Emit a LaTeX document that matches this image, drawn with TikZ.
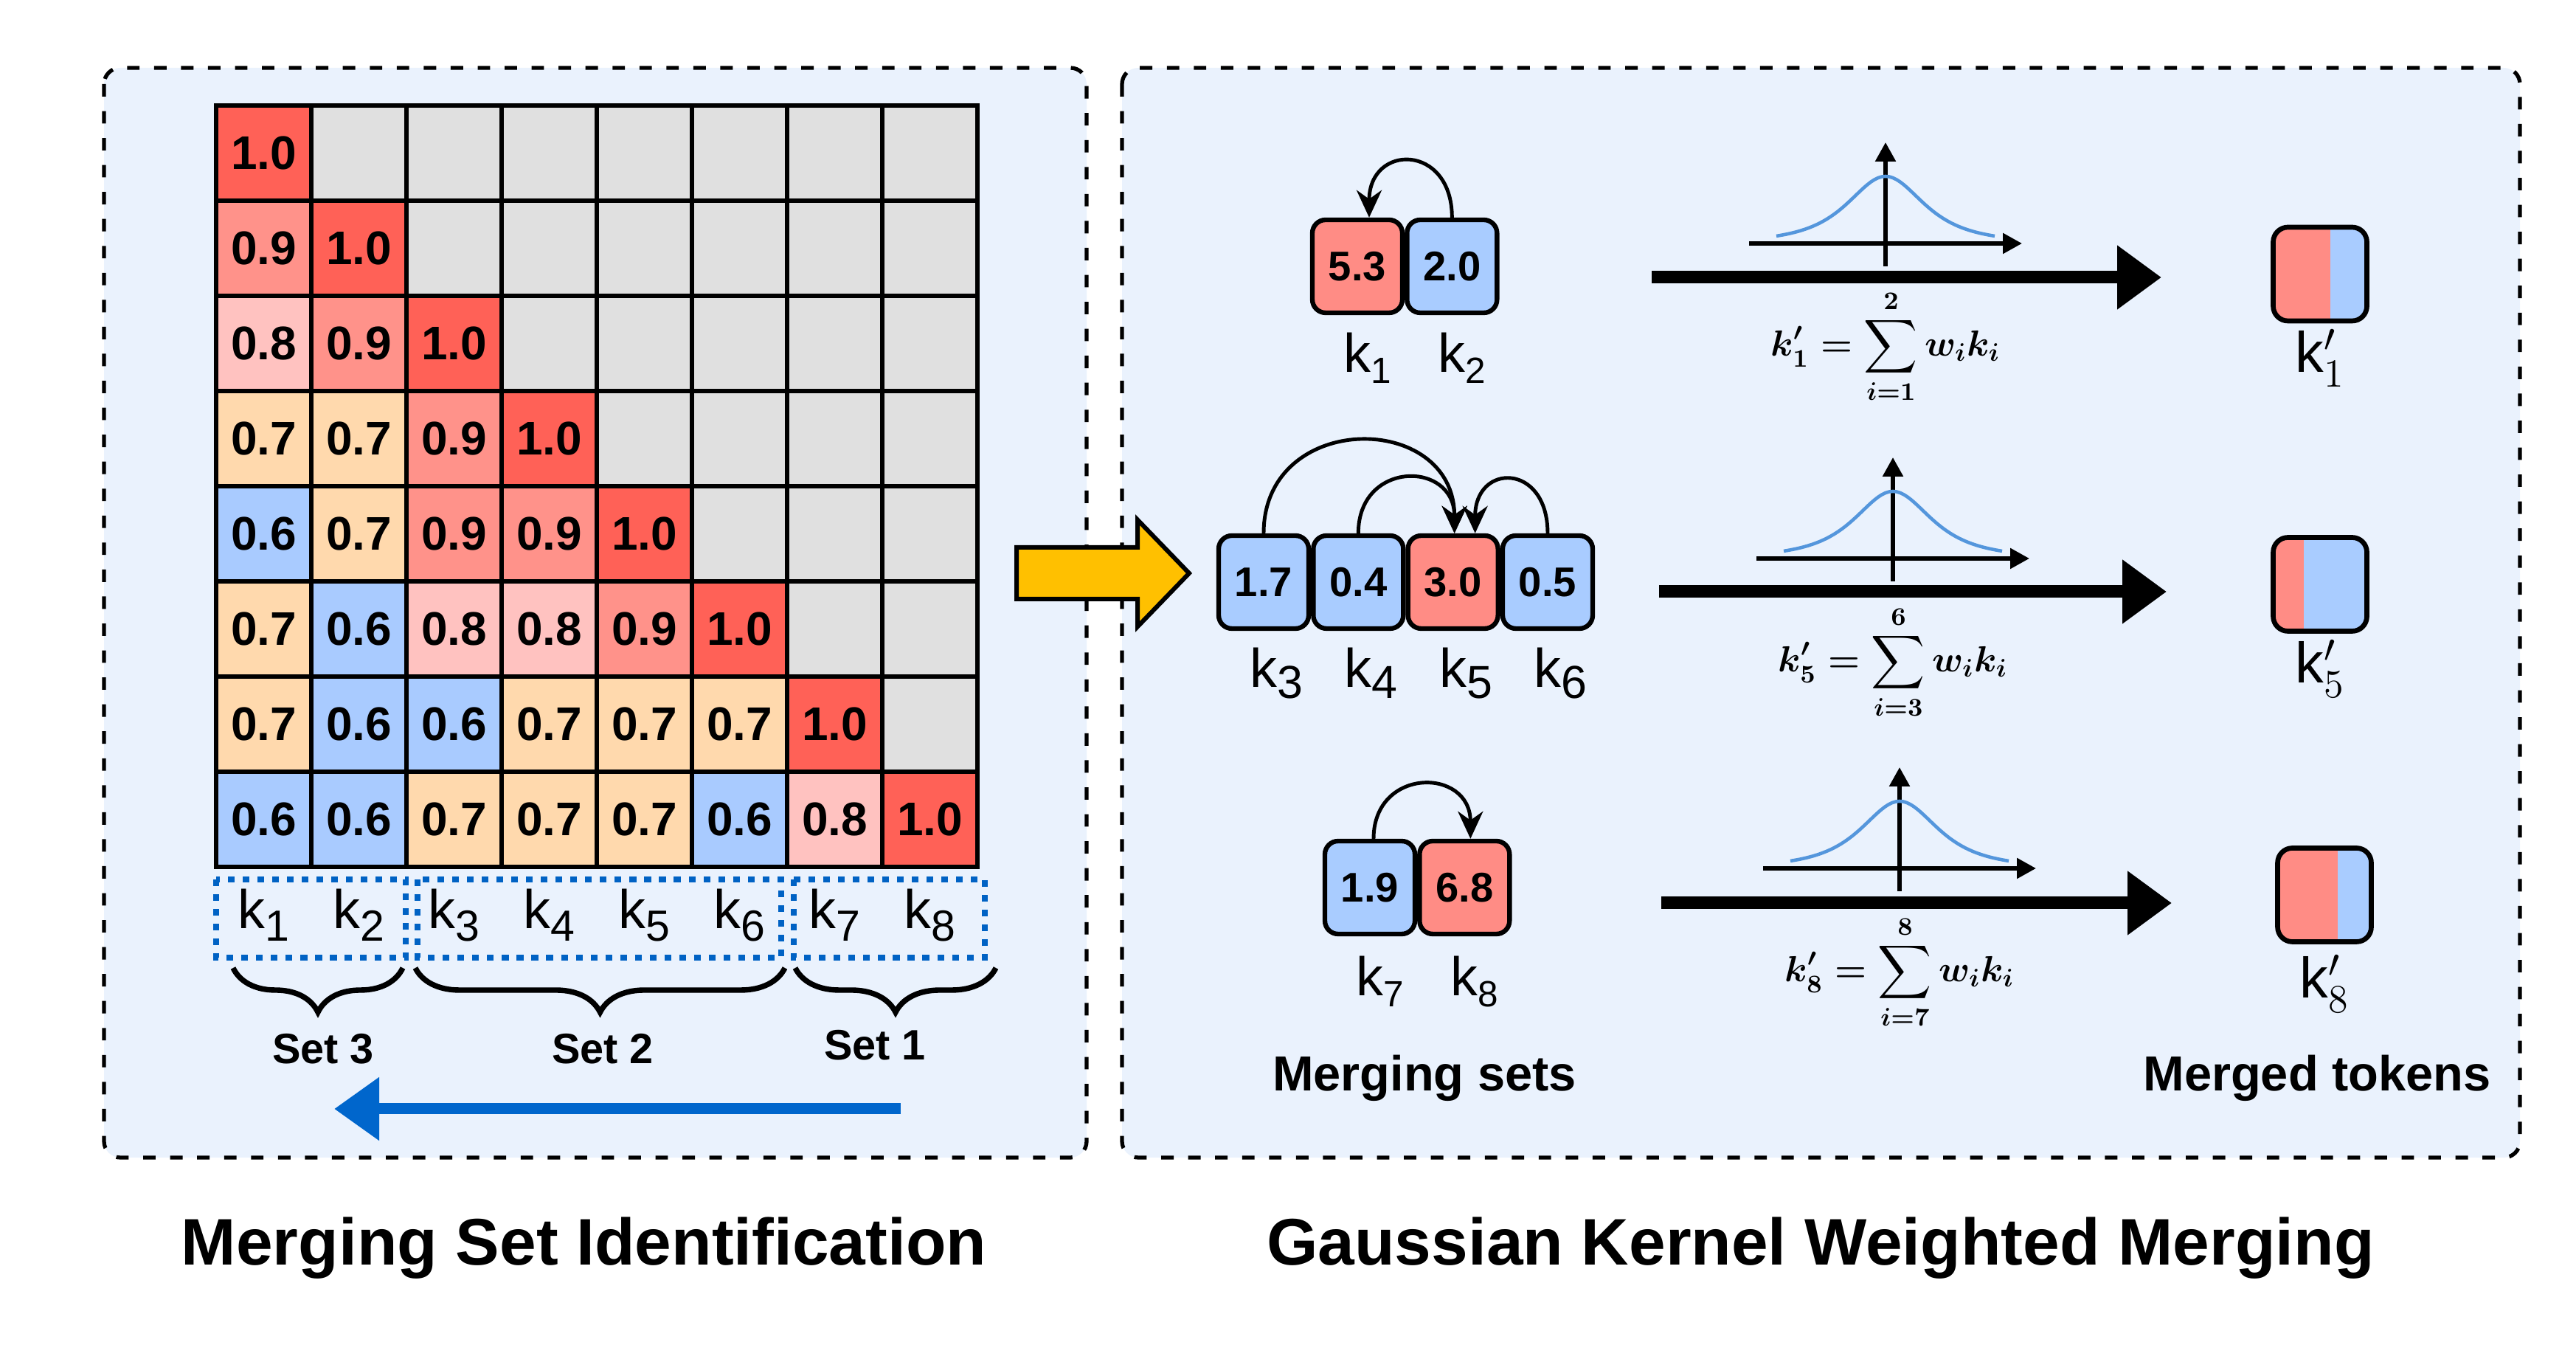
\RequirePackage{fix-cm}
\documentclass[tikz,border=0pt]{standalone}
\usepackage{exscale}
\usepackage{fontspec}
\setmainfont{Liberation Sans}
\usepackage{graphicx}
\usetikzlibrary{arrows.meta,positioning,decorations.pathreplacing}

\definecolor{sim10}{RGB}{255,97,87}
\definecolor{sim9}{RGB}{255,146,138}
\definecolor{sim8}{RGB}{255,194,192}
\definecolor{sim7}{RGB}{255,217,173}
\definecolor{sim6}{RGB}{169,203,255}
\definecolor{simnone}{RGB}{224,224,224}
\definecolor{panelbg}{RGB}{234,242,253}
\definecolor{setblue}{RGB}{0,98,196}
\definecolor{dirblue}{RGB}{0,102,204}
\definecolor{kernelblue}{RGB}{84,150,220}
\definecolor{tokred}{RGB}{255,140,133}
\definecolor{tokblue}{RGB}{169,204,255}
\definecolor{gold}{RGB}{255,192,0}

% key labels: subscript hangs below, right one keeps the k centred
\newcommand{\keyl}[2][0.8]{k\raisebox{-0.22em}{\scalebox{#1}{#2}}}
\newcommand{\keyr}[2][0.67]{k\rlap{\raisebox{-0.2em}{\scalebox{#1}{#2}}}}

\tikzset{
  panel/.style={draw=black, fill=panelbg, line width=1.5pt, dash pattern=on 4.8pt off 5.6pt, rounded corners=0.22cm},
  cell/.style={draw, line width=1.7pt, minimum size=1.29cm, inner sep=0pt, font=\fontsize{18.2}{20}\selectfont\bfseries},
  setbox/.style={draw=setblue, line width=2.3pt, dash pattern=on 2.6pt off 3.1pt},
  setbrace/.style={line width=2.1pt, decorate, decoration={brace, mirror, amplitude=0.6cm}},
  setlabel/.style={font=\fontsize{16.4}{18}\selectfont\bfseries, inner sep=0pt},
  klab/.style={font=\fontsize{21}{24}\selectfont, inner sep=0pt},
  scanarrow/.style={dirblue, line width=0.15cm, -{Triangle[length=6.1mm,width=8.2mm]}},
  tok/.style={draw, line width=1.8pt, rounded corners=0.18cm, minimum width=1.22cm, minimum height=1.26cm, inner sep=0pt, font=\fontsize{16}{18}\selectfont\bfseries},
  merge/.style={line width=1.4pt, -{Stealth[length=3.7mm,width=3.4mm]}},
  kaxis/.style={line width=1.6pt, -{Triangle[length=2.6mm,width=2.7mm]}},
  kernel/.style={kernelblue, line width=1.3pt},
  flow/.style={line width=0.17cm, -{Triangle[length=6mm,width=8.3mm]}},
  formula/.style={font=\fontsize{14}{16}\selectfont\boldmath, inner sep=0pt},
  merged/.style={draw, line width=1.9pt, rounded corners=0.2cm, minimum width=1.27cm, minimum height=1.27cm, inner sep=0pt, fill=tokblue,
    path picture={\fill[tokred, sharp corners] (path picture bounding box.south west) rectangle ([xshift=#1]path picture bounding box.north west);}},
  mlab/.style={font=\fontsize{22}{25}\selectfont, inner sep=0pt},
  caption/.style={font=\fontsize{19}{22}\selectfont\bfseries, inner sep=0pt},
  paneltitle/.style={font=\fontsize{25.4}{28}\selectfont\bfseries, inner sep=0pt},
  goldarrow/.style={draw=black, fill=gold, line width=1.7pt, line join=miter}
}

\begin{document}
\begin{tikzpicture}
\fill[white] (0,0) rectangle (34.92,18.42);
\useasboundingbox (0,0) rectangle (34.92,18.42);

% the two panels
\draw[panel] (1.41,17.50) rectangle (14.73,2.73);
\draw[panel] (15.21,17.50) rectangle (34.16,2.73);

% similarity matrix
\foreach \vals [count=\r] in {{1.0},{0.9,1.0},{0.8,0.9,1.0},{0.7,0.7,0.9,1.0},{0.6,0.7,0.9,0.9,1.0},
    {0.7,0.6,0.8,0.8,0.9,1.0},{0.7,0.6,0.6,0.7,0.7,0.7,1.0},{0.6,0.6,0.7,0.7,0.7,0.6,0.8,1.0}}{
  \foreach \v [count=\c] in \vals {
    \pgfmathtruncatemacro{\lvl}{round(\v*10)}
    \node[cell, fill=sim\lvl] (c-\r-\c) at ({2.93+1.29*(\c-0.5)},{16.99-1.29*(\r-0.5)}) {\v};
  }
}
\foreach \r in {1,...,7}{
  \pgfmathtruncatemacro{\s}{\r+1}
  \foreach \c in {\s,...,8}
    \node[cell, fill=simnone] (c-\r-\c) at ({2.93+1.29*(\c-0.5)},{16.99-1.29*(\r-0.5)}) {};
}

% keys under the matrix
\foreach \c in {1,...,8}
  \node[klab, anchor=base] (t\c) at ({2.93+1.29*(\c-0.5)},5.83) {\keyl{\c}};
\draw[setbox] (2.93,6.50) rectangle (5.50,5.44);
\draw[setbox] (5.66,6.50) rectangle (10.59,5.44);
\draw[setbox] (10.76,6.50) rectangle (13.35,5.44);

\draw[setbrace] (3.16,5.30) -- (5.46,5.30);
\draw[setbrace] (5.63,5.30) -- (10.64,5.30);
\draw[setbrace] (10.78,5.30) -- (13.50,5.30);
\node[setlabel, anchor=base] (set3) at (4.38,4.00) {Set 3};
\node[setlabel, anchor=base] (set2) at (8.17,4.00) {Set 2};
\node[setlabel, anchor=base] (set1) at (11.86,4.05) {Set 1};

\coordinate (scanstart) at (12.21,3.39);
\coordinate (scanend) at (4.53,3.39);
\draw[scanarrow] (scanstart) -- (scanend);

% merging sets
\node[tok, fill=tokred] (k1) at (18.40,14.81) {5.3};
\node[tok, fill=tokblue, right=0pt of k1] (k2) {2.0};
\node[tok, fill=tokblue] (k3) at (17.13,10.53) {1.7};
\node[tok, fill=tokblue, right=0pt of k3] (k4) {0.4};
\node[tok, fill=tokred, right=0pt of k4] (k5) {3.0};
\node[tok, fill=tokblue, right=0pt of k5] (k6) {0.5};
\node[tok, fill=tokblue] (k7) at (18.57,6.39) {1.9};
\node[tok, fill=tokred, right=0pt of k7] (k8) {6.8};

\draw[merge] (k2.north) to[out=90,in=90,looseness=2.3] ([xshift=0.16cm]k1.north);
\draw[merge] (k3.north) to[out=90,in=90,looseness=1.65] ([xshift=0.02cm]k5.north);
\draw[merge] (k4.north) to[out=90,in=90,looseness=1.95] ([xshift=0.02cm]k5.north);
\draw[merge] (k6.north) to[out=90,in=90,looseness=2.5] ([xshift=0.30cm]k5.north);
\draw[merge] ([xshift=0.05cm]k7.north) to[out=90,in=90,looseness=1.9] ([xshift=0.08cm]k8.north);

\node[klab, anchor=base] (l1) at (k1 |- 0,13.37) {\keyr{1}};
\node[klab, anchor=base] (l2) at (k2 |- 0,13.37) {\keyr{2}};
\node[klab, anchor=base] (l3) at (k3 |- 0,9.10) {\keyr[0.85]{3}};
\node[klab, anchor=base] (l4) at (k4 |- 0,9.10) {\keyr[0.85]{4}};
\node[klab, anchor=base] (l5) at (k5 |- 0,9.10) {\keyr[0.85]{5}};
\node[klab, anchor=base] (l6) at (k6 |- 0,9.10) {\keyr[0.85]{6}};
\node[klab, anchor=base] (l7) at (k7 |- 0,4.92) {\keyr{7}};
\node[klab, anchor=base] (l8) at (k8 |- 0,4.92) {\keyr{8}};

% kernels
\foreach \gx/\gy in {25.56/15.12, 25.66/10.85, 25.75/6.65}{
  \begin{scope}[shift={(\gx,\gy)}]
    \draw[kaxis] (-1.85,0) -- (1.85,0);
    \draw[kaxis] (0,-0.31) -- (0,1.37);
    \draw[kernel] plot[domain=-1.48:1.48, samples=61] (\x,{0.91/(1+(\x/0.81)^2)^1.5});
  \end{scope}
}

\coordinate (g1s) at (22.39,14.66);
\coordinate (g1e) at (29.30,14.66);
\coordinate (g5s) at (22.49,10.40);
\coordinate (g5e) at (29.37,10.40);
\coordinate (g8s) at (22.52,6.18);
\coordinate (g8e) at (29.44,6.18);
\draw[flow] (g1s) -- (g1e);
\draw[flow] (g5s) -- (g5e);
\draw[flow] (g8s) -- (g8e);

\node[formula] (f1) at (25.56,13.72) {$\displaystyle k'_1 = \sum_{i=1}^{2} w_i k_i$};
\node[formula] (f5) at (25.66,9.44) {$\displaystyle k'_5 = \sum_{i=3}^{6} w_i k_i$};
\node[formula] (f8) at (25.75,5.24) {$\displaystyle k'_8 = \sum_{i=7}^{8} w_i k_i$};

% merged tokens
\node[merged=0.77cm] (m1) at (31.45,14.705) {};
\node[merged=0.41cm] (m5) at (31.45,10.50) {};
\node[merged=0.81cm] (m8) at (31.51,6.29) {};
\node[mlab, anchor=base] (ml1) at (m1 |- 0,13.37) {$\mathrm{k}'_1$};
\node[mlab, anchor=base] (ml5) at (m5 |- 0,9.16) {$\mathrm{k}'_5$};
\node[mlab, anchor=base] (ml8) at (m8 |- 0,4.89) {$\mathrm{k}'_8$};

\node[caption, anchor=base] (setscap) at (19.31,3.63) {Merging sets};
\node[caption, anchor=base] (tokcap) at (31.41,3.63) {Merged tokens};

% arrow between the panels
\coordinate (ytail) at (13.78,10.65);
\draw[goldarrow] (ytail) ++(0,-0.35) -- ++(1.64,0) -- ++(0,-0.375) -- ++(0.70,0.725)
  -- ++(-0.70,0.725) -- ++(0,-0.375) -- ++(-1.64,0) -- cycle;

\node[paneltitle, anchor=base] (lefttitle) at (7.915,1.27) {Merging Set Identification};
\node[paneltitle, anchor=base] (righttitle) at (24.68,1.27) {Gaussian Kernel Weighted Merging};
\end{tikzpicture}
\end{document}
